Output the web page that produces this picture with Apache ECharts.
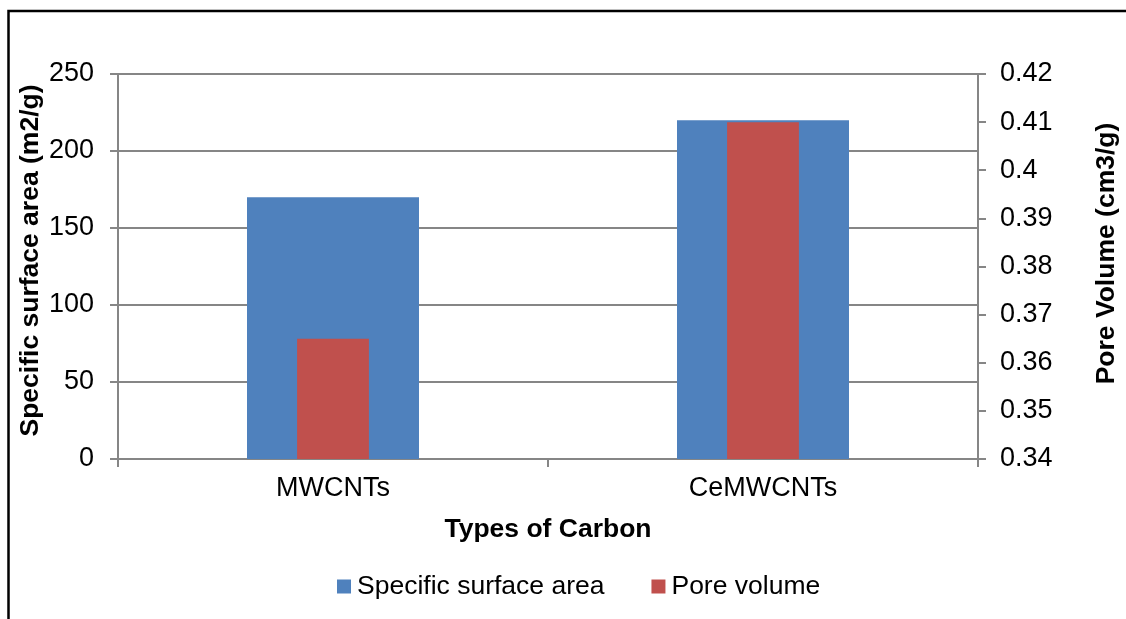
<!DOCTYPE html>
<html>
<head>
<meta charset="utf-8">
<script src="https://cdn.jsdelivr.net/npm/echarts@6/dist/echarts.min.js"></script>
<style>
html,body{margin:0;padding:0;background:#fff;}
#chart{width:1126px;height:619px;}
</style>
</head>
<body>
<div id="chart"></div>
<script>
var categories = ['MWCNTs', 'CeMWCNTs'];
var surfaceArea = [170, 220];
var poreVolume = [0.365, 0.41];
var seriesNames = ['Specific surface area', 'Pore volume'];
var leftAxisName = 'Specific surface area (m2/g)';
var rightAxisName = 'Pore Volume (cm3/g)';
var xAxisName = 'Types of Carbon';

var FONT = '"Liberation Sans", Arial, sans-serif';
var GRAY = '#868686';

var chart = echarts.init(document.getElementById('chart'), null, {renderer: 'canvas'});
chart.setOption({
  animation: false,
  textStyle: {fontFamily: FONT},
  graphic: [{
    type: 'rect',
    shape: {x: 8.5, y: 11, width: 1300, height: 800},
    style: {fill: 'none', stroke: '#000', lineWidth: 2.5},
    silent: true
  }],
  grid: {left: 118, right: 148, top: 74, bottom: 160, containLabel: false, outerBoundsMode: 'none'},
  legend: {
    data: seriesNames,
    left: 332, top: 568,
    itemWidth: 14, itemHeight: 14, itemGap: 47,
    icon: 'rect',
    textStyle: {fontSize: 26.5, color: '#000', fontFamily: FONT, padding: [0, 0, 0, 1]}
  },
  xAxis: [{
    type: 'category',
    data: categories,
    name: xAxisName,
    nameLocation: 'middle',
    nameGap: 57,
    nameMoveOverlap: false,
    nameTextStyle: {fontSize: 26.5, fontWeight: 'bold', color: '#000', fontFamily: FONT},
    axisLine: {lineStyle: {color: GRAY, width: 2}},
    axisTick: {show: true, length: 8, alignWithLabel: false, lineStyle: {color: GRAY, width: 2}},
    axisLabel: {fontSize: 27, color: '#000', margin: 16, fontFamily: FONT}
  }, {
    type: 'category',
    data: categories,
    show: false
  }],
  yAxis: [{
    type: 'value',
    min: 0, max: 250, interval: 50,
    name: leftAxisName,
    nameLocation: 'middle',
    nameRotate: 90,
    nameGap: 74,
    nameMoveOverlap: false,
    nameTextStyle: {fontSize: 26.5, fontWeight: 'bold', color: '#000', fontFamily: FONT, padding: [0, 0, 0, 12]},
    axisLine: {show: true, lineStyle: {color: GRAY, width: 2}},
    axisTick: {show: true, length: 8, lineStyle: {color: GRAY, width: 2}},
    axisLabel: {fontSize: 27, color: '#000', margin: 24, fontFamily: FONT},
    splitLine: {show: true, lineStyle: {color: GRAY, width: 2}}
  }, {
    type: 'value',
    position: 'right',
    min: 0.34, max: 0.42, interval: 0.01,
    name: rightAxisName,
    nameLocation: 'middle',
    nameRotate: 90,
    nameGap: 115,
    nameMoveOverlap: false,
    nameTextStyle: {fontSize: 26.5, fontWeight: 'bold', color: '#000', fontFamily: FONT, padding: [0, 0, 0, 26]},
    axisLine: {show: true, lineStyle: {color: GRAY, width: 2}},
    axisTick: {show: true, length: 8, lineStyle: {color: GRAY, width: 2}},
    axisLabel: {fontSize: 27, color: '#000', margin: 22, fontFamily: FONT,
      formatter: function (v) { return String(+v.toFixed(2)); }},
    splitLine: {show: false}
  }],
  series: [{
    name: seriesNames[0],
    type: 'bar',
    data: surfaceArea,
    xAxisIndex: 0,
    yAxisIndex: 0,
    barWidth: '40%',
    itemStyle: {color: '#4F81BD'}
  }, {
    name: seriesNames[1],
    type: 'bar',
    data: poreVolume,
    xAxisIndex: 1,
    yAxisIndex: 1,
    barWidth: '16.7%',
    itemStyle: {color: '#C0504D'}
  }]
});
</script>
</body>
</html>
